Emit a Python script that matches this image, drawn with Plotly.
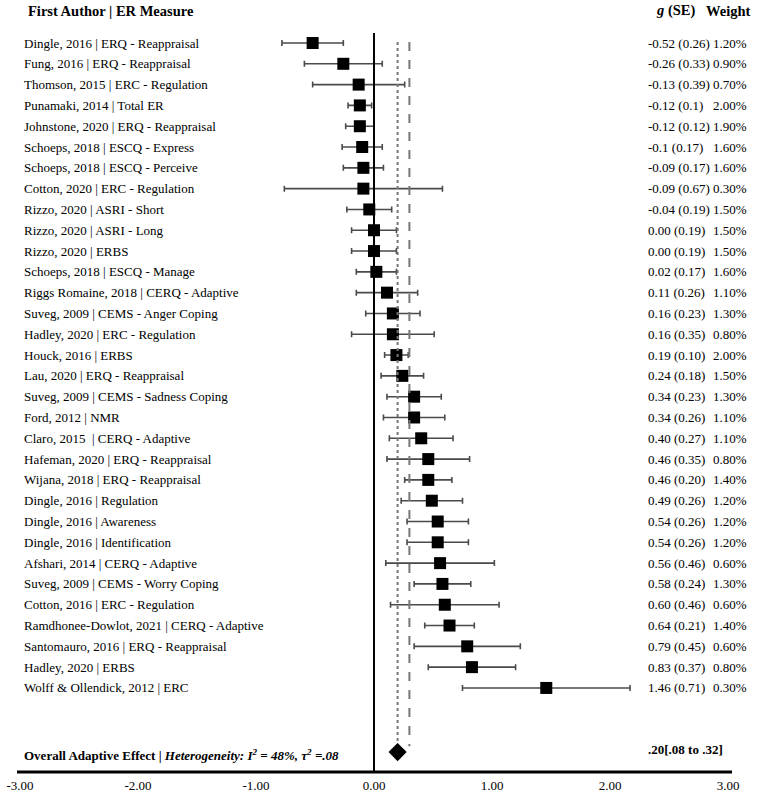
import plotly.graph_objects as go

# ---------------- data ----------------
studies = [
    "Dingle, 2016 | ERQ - Reappraisal",
    "Fung, 2016 | ERQ - Reappraisal",
    "Thomson, 2015 | ERC - Regulation",
    "Punamaki, 2014 | Total ER",
    "Johnstone, 2020 | ERQ - Reappraisal",
    "Schoeps, 2018 | ESCQ - Express",
    "Schoeps, 2018 | ESCQ - Perceive",
    "Cotton, 2020 | ERC - Regulation",
    "Rizzo, 2020 | ASRI - Short",
    "Rizzo, 2020 | ASRI - Long",
    "Rizzo, 2020 | ERBS",
    "Schoeps, 2018 | ESCQ - Manage",
    "Riggs Romaine, 2018 | CERQ - Adaptive",
    "Suveg, 2009 | CEMS - Anger Coping",
    "Hadley, 2020 | ERC - Regulation",
    "Houck, 2016 | ERBS",
    "Lau, 2020 | ERQ - Reappraisal",
    "Suveg, 2009 | CEMS - Sadness Coping",
    "Ford, 2012 | NMR",
    "Claro, 2015  | CERQ - Adaptive",
    "Hafeman, 2020 | ERQ - Reappraisal",
    "Wijana, 2018 | ERQ - Reappraisal",
    "Dingle, 2016 | Regulation",
    "Dingle, 2016 | Awareness",
    "Dingle, 2016 | Identification",
    "Afshari, 2014 | CERQ - Adaptive",
    "Suveg, 2009 | CEMS - Worry Coping",
    "Cotton, 2016 | ERC - Regulation",
    "Ramdhonee-Dowlot, 2021 | CERQ - Adaptive",
    "Santomauro, 2016 | ERQ - Reappraisal",
    "Hadley, 2020 | ERBS",
    "Wolff & Ollendick, 2012 | ERC",
]
g_values = [-0.52, -0.26, -0.13, -0.12, -0.12, -0.10, -0.09, -0.09, -0.04, 0.00,
            0.00, 0.02, 0.11, 0.16, 0.16, 0.19, 0.24, 0.34, 0.34, 0.40,
            0.46, 0.46, 0.49, 0.54, 0.54, 0.56, 0.58, 0.60, 0.64, 0.79,
            0.83, 1.46]
se_values = [0.26, 0.33, 0.39, 0.10, 0.12, 0.17, 0.17, 0.67, 0.19, 0.19,
             0.19, 0.17, 0.26, 0.23, 0.35, 0.10, 0.18, 0.23, 0.26, 0.27,
             0.35, 0.20, 0.26, 0.26, 0.26, 0.46, 0.24, 0.46, 0.21, 0.45,
             0.37, 0.71]
g_se_labels = ["-0.52 (0.26)", "-0.26 (0.33)", "-0.13 (0.39)", "-0.12 (0.1)", "-0.12 (0.12)",
               "-0.1 (0.17)", "-0.09 (0.17)", "-0.09 (0.67)", "-0.04 (0.19)", "0.00 (0.19)",
               "0.00 (0.19)", "0.02 (0.17)", "0.11 (0.26)", "0.16 (0.23)", "0.16 (0.35)",
               "0.19 (0.10)", "0.24 (0.18)", "0.34 (0.23)", "0.34 (0.26)", "0.40 (0.27)",
               "0.46 (0.35)", "0.46 (0.20)", "0.49 (0.26)", "0.54 (0.26)", "0.54 (0.26)",
               "0.56 (0.46)", "0.58 (0.24)", "0.60 (0.46)", "0.64 (0.21)", "0.79 (0.45)",
               "0.83 (0.37)", "1.46 (0.71)"]
weight_labels = ["1.20%", "0.90%", "0.70%", "2.00%", "1.90%", "1.60%", "1.60%", "0.30%",
                 "1.50%", "1.50%", "1.50%", "1.60%", "1.10%", "1.30%", "0.80%", "2.00%",
                 "1.50%", "1.30%", "1.10%", "1.10%", "0.80%", "1.40%", "1.20%", "1.20%",
                 "1.20%", "0.60%", "1.30%", "0.60%", "1.40%", "0.60%", "0.80%", "0.30%"]
overall_g = 0.20
overall_ci_label = ".20[.08 to .32]"
mean_line = 0.30
x_ticks = [-3, -2, -1, 0, 1, 2, 3]
x_tick_labels = ["-3.00", "-2.00", "-1.00", "0.00", "1.00", "2.00", "3.00"]

# ---------------- layout helpers ----------------
W, H = 757, 795
ML, MR, MT, MB = 20, 29, 25, 23
PW = W - ML - MR
PH = H - MT - MB
rows = list(range(len(studies)))
overall_row = 34.08
y_range = [35.04, -0.865]
FONT = "Liberation Serif, Times New Roman, serif"
PAD = 2  # annotation inner padding (px)


def px_x(p):
    return (p - PAD - ML) / PW


def px_y(p):
    return (H - MB - p) / PH


fig = go.Figure()

fig.add_trace(go.Scatter(
    x=g_values, y=rows, mode="markers",
    marker=dict(symbol="square", size=12, color="black"),
    error_x=dict(type="data", array=se_values, symmetric=True,
                 color="#4a4a4a", thickness=1.6, width=3),
    showlegend=False, hoverinfo="skip",
))

fig.add_trace(go.Scatter(
    x=[overall_g], y=[overall_row], mode="markers",
    marker=dict(symbol="diamond", size=14, color="black"),
    showlegend=False, hoverinfo="skip",
))

shapes = [
    dict(type="line", xref="x", yref="y", x0=0, x1=0, y0=-0.48, y1=35.04,
         line=dict(color="black", width=2)),
    dict(type="line", xref="x", yref="y", x0=overall_g, x1=overall_g, y0=-0.05, y1=33.7,
         line=dict(color="#777777", width=2, dash="dot")),
    dict(type="line", xref="x", yref="y", x0=mean_line, x1=mean_line, y0=-0.05, y1=33.8,
         line=dict(color="#777777", width=2, dash="dash")),
    dict(type="line", xref="paper", yref="paper", x0=(17 - ML) / PW, x1=(732 - ML) / PW,
         y0=0, y1=0, line=dict(color="black", width=3)),
]

annotations = []
for i, (s, gs, w) in enumerate(zip(studies, g_se_labels, weight_labels)):
    annotations.append(dict(x=px_x(24), xref="paper", y=i, yref="y", text=s,
                            showarrow=False, xanchor="left", yanchor="middle",
                            font=dict(family=FONT, size=13, color="black")))
    annotations.append(dict(x=px_x(648), xref="paper", y=i, yref="y", text=gs,
                            showarrow=False, xanchor="left", yanchor="middle",
                            font=dict(family=FONT, size=13, color="black")))
    annotations.append(dict(x=px_x(713), xref="paper", y=i, yref="y", text=w,
                            showarrow=False, xanchor="left", yanchor="middle",
                            font=dict(family=FONT, size=13, color="black")))

annotations += [
    dict(x=px_x(28), xref="paper", y=px_y(11), yref="paper",
         text="<b>First Author | ER Measure</b>", showarrow=False,
         xanchor="left", yanchor="middle",
         font=dict(family=FONT, size=14.5, color="black")),
    dict(x=px_x(656), xref="paper", y=px_y(11), yref="paper",
         text="<b><i>g</i> (SE)</b>", showarrow=False,
         xanchor="left", yanchor="middle",
         font=dict(family=FONT, size=14.5, color="black")),
    dict(x=px_x(706), xref="paper", y=px_y(11), yref="paper",
         text="<b>Weight</b>", showarrow=False,
         xanchor="left", yanchor="middle",
         font=dict(family=FONT, size=14.5, color="black")),
    dict(x=px_x(24), xref="paper", y=overall_row + 0.15, yref="y",
         text="<b>Overall Adaptive Effect | <i>Heterogeneity: I<sup>2</sup> = 48%, τ<sup>2</sup> =.08</i></b>",
         showarrow=False, xanchor="left", yanchor="middle",
         font=dict(family=FONT, size=13, color="black")),
    dict(x=px_x(648), xref="paper", y=overall_row - 0.1, yref="y",
         text="<b>" + overall_ci_label + "</b>",
         showarrow=False, xanchor="left", yanchor="middle",
         font=dict(family=FONT, size=13, color="black")),
]

fig.update_layout(
    width=W, height=H,
    margin=dict(l=ML, r=MR, t=MT, b=MB, autoexpand=False),
    paper_bgcolor="white", plot_bgcolor="white",
    shapes=shapes, annotations=annotations,
    showlegend=False,
    xaxis=dict(range=[-3, 3], tickvals=x_ticks, ticktext=x_tick_labels,
               showgrid=False, zeroline=False, showline=False, ticks="",
               ticklabelstandoff=4, automargin=False,
               tickfont=dict(family=FONT, size=13, color="black"),
               fixedrange=True),
    yaxis=dict(range=y_range, visible=False, showgrid=False, zeroline=False,
               automargin=False, fixedrange=True),
)

fig.write_html("out.html", config={"displayModeBar": False},
               post_script="document.body.style.margin='0';")
